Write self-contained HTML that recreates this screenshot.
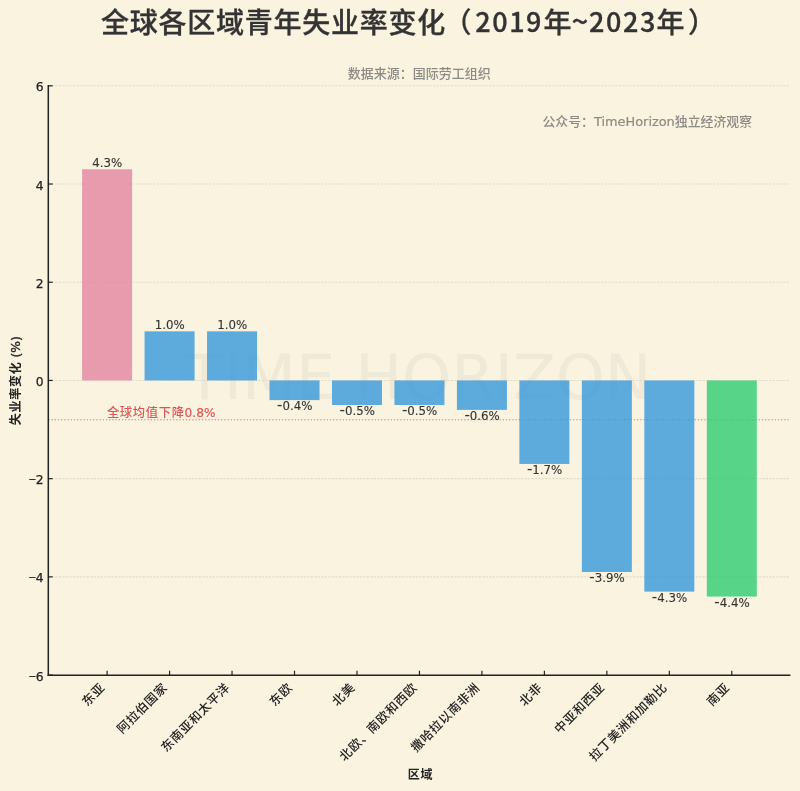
<!DOCTYPE html>
<html lang="zh-CN"><head><meta charset="utf-8"><title>全球各区域青年失业率变化</title>
<style>
html,body{margin:0;padding:0;background:#faf3e0;}
body{width:800px;height:791px;overflow:hidden;}
svg{display:block;}
text{font-family:'DejaVu Sans','Liberation Sans','Noto Sans CJK SC',sans-serif;fill:#222222;}
.cjk{font-family:'Noto Sans CJK SC','DejaVu Sans','Liberation Sans',sans-serif;}
.t{font-size:29px;font-weight:500;fill:#333;stroke:#333;stroke-width:0.3px;}
.c{font-size:28px;}
.d{font-size:27px;letter-spacing:1.55px;}
.bl{font-size:11.8px;text-anchor:middle;fill:#333;stroke:#333;stroke-width:0.12px;}
.xt{font-size:12.4px;font-weight:500;text-anchor:end;letter-spacing:0.6px;}
.g{fill:#8c8a84;font-size:13px;font-weight:500;}
</style></head><body>
<svg width="800" height="791" viewBox="0 0 800 791">
<rect x="0" y="0" width="800" height="791" fill="#faf3e0"/>
<text class="cjk t" y="32.8"><tspan class="c" x="101.1" style="letter-spacing:0.75px">全球各区域青年失业率变化</tspan><tspan class="c" x="443.4">（</tspan><tspan class="d" x="475.3" y="32.2">2019</tspan><tspan class="c" x="543.6" y="32.8">年</tspan><tspan x="571.8" y="32.2">~</tspan><tspan class="d" x="589.1" y="32.2">2023</tspan><tspan class="c" x="656.6" y="32.8">年</tspan><tspan class="c" x="688.1">）</tspan></text>
<text class="g" x="419.2" y="77.9" text-anchor="middle">数据来源：国际劳工组织</text>
<text x="185.6" y="399.3" font-size="62.4" style="fill:#7a7a7a;fill-opacity:0.085">TIME HORIZON</text>
<line x1="48.3" x2="790.4" y1="85.80" y2="85.80" stroke="#e2dbc8" stroke-width="1.1" stroke-dasharray="2.2 1.3"/>
<line x1="48.3" x2="790.4" y1="184.02" y2="184.02" stroke="#e2dbc8" stroke-width="1.1" stroke-dasharray="2.2 1.3"/>
<line x1="48.3" x2="790.4" y1="282.23" y2="282.23" stroke="#e2dbc8" stroke-width="1.1" stroke-dasharray="2.2 1.3"/>
<line x1="48.3" x2="790.4" y1="380.45" y2="380.45" stroke="#e2dbc8" stroke-width="1.1" stroke-dasharray="2.2 1.3"/>
<line x1="48.3" x2="790.4" y1="478.67" y2="478.67" stroke="#e2dbc8" stroke-width="1.1" stroke-dasharray="2.2 1.3"/>
<line x1="48.3" x2="790.4" y1="576.88" y2="576.88" stroke="#e2dbc8" stroke-width="1.1" stroke-dasharray="2.2 1.3"/>
<line x1="48.3" x2="790.4" y1="675.10" y2="675.10" stroke="#e2dbc8" stroke-width="1.1" stroke-dasharray="2.2 1.3"/>
<line x1="48.3" x2="790.4" y1="419.74" y2="419.74" stroke="#e0626e" stroke-opacity="0.85" stroke-width="1.2" stroke-dasharray="1.3 1.9"/>
<rect x="82.10" y="169.28" width="50.0" height="211.17" fill="#e284a0" fill-opacity="0.8"/>
<rect x="144.57" y="331.34" width="50.0" height="49.11" fill="#3498db" fill-opacity="0.8"/>
<rect x="207.04" y="331.34" width="50.0" height="49.11" fill="#3498db" fill-opacity="0.8"/>
<rect x="269.51" y="380.45" width="50.0" height="19.64" fill="#3498db" fill-opacity="0.8"/>
<rect x="331.98" y="380.45" width="50.0" height="24.55" fill="#3498db" fill-opacity="0.8"/>
<rect x="394.45" y="380.45" width="50.0" height="24.55" fill="#3498db" fill-opacity="0.8"/>
<rect x="456.92" y="380.45" width="50.0" height="29.46" fill="#3498db" fill-opacity="0.8"/>
<rect x="519.39" y="380.45" width="50.0" height="83.48" fill="#3498db" fill-opacity="0.8"/>
<rect x="581.86" y="380.45" width="50.0" height="191.52" fill="#3498db" fill-opacity="0.8"/>
<rect x="644.33" y="380.45" width="50.0" height="211.17" fill="#3498db" fill-opacity="0.8"/>
<rect x="706.80" y="380.45" width="50.0" height="216.08" fill="#2ecc71" fill-opacity="0.8"/>
<text x="106.9" y="416.7" font-size="12.3" font-weight="500" style="fill:#e05656;letter-spacing:0.65px">全球均值下降<tspan font-size="12.2" style="stroke:#e05656;stroke-width:0.2px;letter-spacing:0">0.8%</tspan></text>
<text class="bl" x="107.30" y="166.68">4.3%</text>
<text class="bl" x="169.77" y="328.74">1.0%</text>
<text class="bl" x="232.24" y="328.74">1.0%</text>
<text class="bl" x="294.71" y="410.29"><tspan font-size="15">-</tspan>0.4%</text>
<text class="bl" x="357.18" y="415.20"><tspan font-size="15">-</tspan>0.5%</text>
<text class="bl" x="419.65" y="415.20"><tspan font-size="15">-</tspan>0.5%</text>
<text class="bl" x="482.12" y="420.12"><tspan font-size="15">-</tspan>0.6%</text>
<text class="bl" x="544.59" y="474.13"><tspan font-size="15">-</tspan>1.7%</text>
<text class="bl" x="607.06" y="582.17"><tspan font-size="15">-</tspan>3.9%</text>
<text class="bl" x="669.53" y="601.82"><tspan font-size="15">-</tspan>4.3%</text>
<text class="bl" x="732.00" y="606.73"><tspan font-size="15">-</tspan>4.4%</text>
<line x1="48.3" x2="48.3" y1="85.1" y2="676.1" stroke="#222222" stroke-width="1.5"/>
<line x1="47.55" x2="790.4" y1="675.35" y2="675.35" stroke="#222222" stroke-width="1.5"/>
<line x1="48.3" x2="52.699999999999996" y1="85.80" y2="85.80" stroke="#222222" stroke-width="1.2"/>
<text x="43.70" y="91.30" text-anchor="end" font-size="12.3" style="stroke:#222;stroke-width:0.25px">6</text>
<line x1="48.3" x2="52.699999999999996" y1="184.02" y2="184.02" stroke="#222222" stroke-width="1.2"/>
<text x="43.70" y="189.52" text-anchor="end" font-size="12.3" style="stroke:#222;stroke-width:0.25px">4</text>
<line x1="48.3" x2="52.699999999999996" y1="282.23" y2="282.23" stroke="#222222" stroke-width="1.2"/>
<text x="43.70" y="287.73" text-anchor="end" font-size="12.3" style="stroke:#222;stroke-width:0.25px">2</text>
<line x1="48.3" x2="52.699999999999996" y1="380.45" y2="380.45" stroke="#222222" stroke-width="1.2"/>
<text x="43.70" y="385.95" text-anchor="end" font-size="12.3" style="stroke:#222;stroke-width:0.25px">0</text>
<line x1="48.3" x2="52.699999999999996" y1="478.67" y2="478.67" stroke="#222222" stroke-width="1.2"/>
<text x="43.70" y="484.17" text-anchor="end" font-size="12.3" style="stroke:#222;stroke-width:0.25px"><tspan class="cjk">−</tspan>2</text>
<line x1="48.3" x2="52.699999999999996" y1="576.88" y2="576.88" stroke="#222222" stroke-width="1.2"/>
<text x="43.70" y="582.38" text-anchor="end" font-size="12.3" style="stroke:#222;stroke-width:0.25px"><tspan class="cjk">−</tspan>4</text>
<line x1="48.3" x2="52.699999999999996" y1="675.10" y2="675.10" stroke="#222222" stroke-width="1.2"/>
<text x="43.70" y="680.60" text-anchor="end" font-size="12.3" style="stroke:#222;stroke-width:0.25px"><tspan class="cjk">−</tspan>6</text>
<line x1="107.10" x2="107.10" y1="675.1" y2="670.7" stroke="#222222" stroke-width="1.2"/>
<text transform="translate(105.70,688.30) rotate(-45)" class="xt">东亚</text>
<line x1="169.57" x2="169.57" y1="675.1" y2="670.7" stroke="#222222" stroke-width="1.2"/>
<text transform="translate(168.17,688.30) rotate(-45)" class="xt">阿拉伯国家</text>
<line x1="232.04" x2="232.04" y1="675.1" y2="670.7" stroke="#222222" stroke-width="1.2"/>
<text transform="translate(230.64,688.30) rotate(-45)" class="xt">东南亚和太平洋</text>
<line x1="294.51" x2="294.51" y1="675.1" y2="670.7" stroke="#222222" stroke-width="1.2"/>
<text transform="translate(293.11,688.30) rotate(-45)" class="xt">东欧</text>
<line x1="356.98" x2="356.98" y1="675.1" y2="670.7" stroke="#222222" stroke-width="1.2"/>
<text transform="translate(355.58,688.30) rotate(-45)" class="xt">北美</text>
<line x1="419.45" x2="419.45" y1="675.1" y2="670.7" stroke="#222222" stroke-width="1.2"/>
<text transform="translate(418.05,688.30) rotate(-45)" class="xt">北欧、南欧和西欧</text>
<line x1="481.92" x2="481.92" y1="675.1" y2="670.7" stroke="#222222" stroke-width="1.2"/>
<text transform="translate(480.52,688.30) rotate(-45)" class="xt">撒哈拉以南非洲</text>
<line x1="544.39" x2="544.39" y1="675.1" y2="670.7" stroke="#222222" stroke-width="1.2"/>
<text transform="translate(542.99,688.30) rotate(-45)" class="xt">北非</text>
<line x1="606.86" x2="606.86" y1="675.1" y2="670.7" stroke="#222222" stroke-width="1.2"/>
<text transform="translate(605.46,688.30) rotate(-45)" class="xt">中亚和西亚</text>
<line x1="669.33" x2="669.33" y1="675.1" y2="670.7" stroke="#222222" stroke-width="1.2"/>
<text transform="translate(667.93,688.30) rotate(-45)" class="xt">拉丁美洲和加勒比</text>
<line x1="731.80" x2="731.80" y1="675.1" y2="670.7" stroke="#222222" stroke-width="1.2"/>
<text transform="translate(730.40,688.30) rotate(-45)" class="xt">南亚</text>
<text transform="translate(20.3,380.75) rotate(-90)" x="0" y="0" text-anchor="middle" font-size="12" font-weight="700" style="letter-spacing:0.8px">失业率变化<tspan font-size="12.3" font-weight="400" style="stroke:#222;stroke-width:0.35px;letter-spacing:0"> (%)</tspan></text>
<text x="420.4" y="779.2" text-anchor="middle" font-size="12" font-weight="700" style="letter-spacing:0.7px">区域</text>
<text class="g" x="542.4" y="126" style="font-size:12.9px">公众号：<tspan style="stroke:#8c8a84;stroke-width:0.2px">TimeHorizon</tspan>独立经济观察</text>
</svg></body></html>
